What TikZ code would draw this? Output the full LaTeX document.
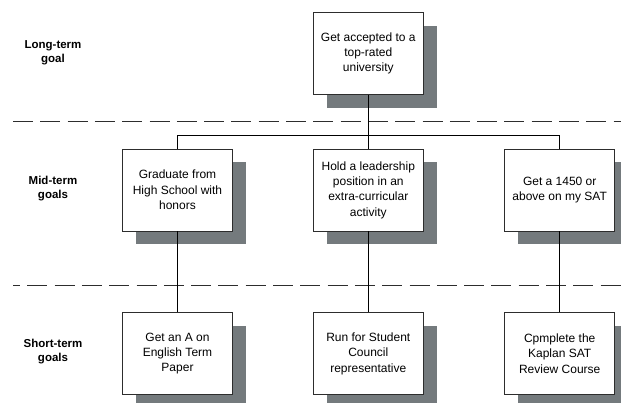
\documentclass[tikz,border=0pt]{standalone}
\usepackage{fontspec}
\setmainfont{Liberation Sans}
\usetikzlibrary{shadows}
\definecolor{shadowgray}{RGB}{116,122,125}
\definecolor{boxline}{RGB}{45,45,45}
\begin{document}
\begin{tikzpicture}[x=1pt,y=-1pt,
  goalbox/.style={draw=boxline, line width=0.9pt, fill=white, minimum width=110pt, minimum height=82pt,
    inner sep=0pt, align=center, font=\fontsize{12}{15.3}\selectfont,
    general shadow={shadow xshift=13.5pt, shadow yshift=-13.5pt, fill=shadowgray, draw=none}},
  levellabel/.style={align=center, font=\fontsize{11.5}{14}\selectfont\bfseries},
  conn/.style={draw=black, line width=0.8pt},
  divider/.style={draw=boxline, line width=0.9pt, dash pattern=on 20pt off 7.3pt}]
\useasboundingbox (0,0) rectangle (621,403);
\fill[white] (0,0) rectangle (621,403);

% dividers
\coordinate (d1a) at (13,121.5);
\coordinate (d1b) at (621,121.5);
\coordinate (d2a) at (13,285.5);
\coordinate (d2b) at (621,285.5);
\draw[divider] (d1a) -- (d1b);
\draw[divider, dash phase=13pt] (d2a) -- (d2b);

% level labels
\node[levellabel] (lt) at (53,52.5) {Long-term\\goal};
\node[levellabel] (mt) at (53,188.5) {Mid-term\\goals};
\node[levellabel] (st) at (53,352) {Short-term\\goals};

% boxes
\node[goalbox] (top) at (368.3,53.5) {Get accepted to a\\top-rated\\university};
\node[goalbox] (m1) at (177.5,190) {Graduate from\\High School with\\honors};
\node[goalbox] (m2) at (368.3,190) {Hold a leadership\\position in an\\extra-curricular\\activity};
\node[goalbox] (m3) at (559.7,190) {Get a 1450 or\\above on my SAT};
\node[goalbox] (s1) at (177.5,353.7) {Get an A on\\English Term\\Paper};
\node[goalbox] (s2) at (368.3,353.7) {Run for Student\\Council\\representative};
\node[goalbox] (s3) at (559.7,353.7) {Cpmplete the\\Kaplan SAT\\Review Course};

% connectors
\coordinate (bus) at (368.3,135.5);
\draw[conn] (top.south) -- (bus);
\draw[conn] (bus) -| (m1.north);
\draw[conn] (bus) -| (m3.north);
\draw[conn] (bus) -- (m2.north);
\draw[conn] (m1.south) -- (s1.north);
\draw[conn] (m2.south) -- (s2.north);
\draw[conn] (m3.south) -- (s3.north);
\end{tikzpicture}
\end{document}
